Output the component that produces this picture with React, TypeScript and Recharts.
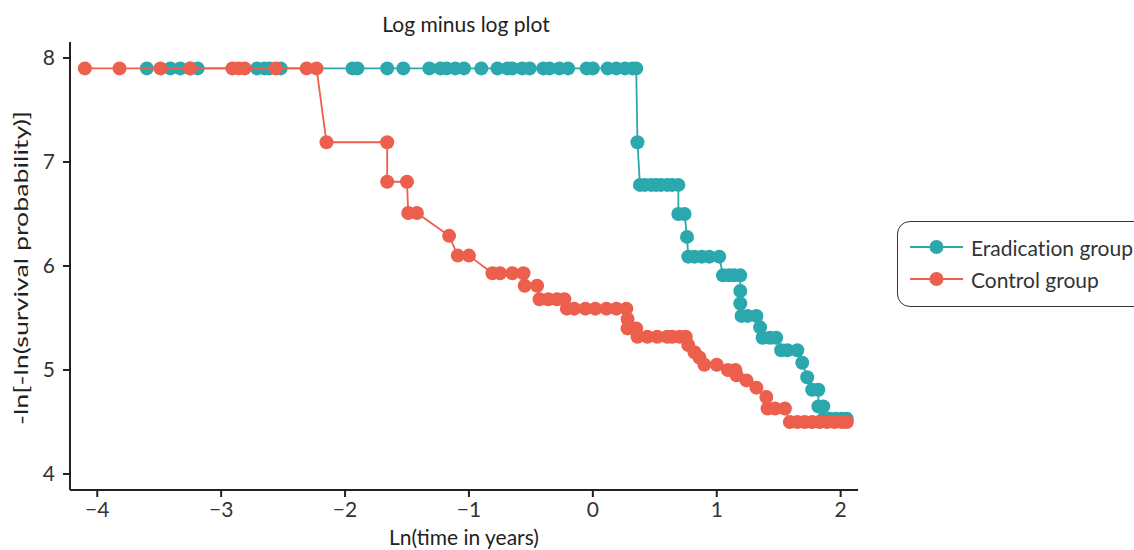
import { ScatterChart, Scatter, XAxis, YAxis } from "recharts"

// Log minus log survival curves, x = ln(time in years), y = -ln[-ln(S(t))]
const eradicationTime = [
  -3.6, -3.41, -3.33, -3.25, -3.19, -2.71, -2.65, -2.61, -2.52, -1.94, -1.9, -1.66, -1.53, -1.32, -1.23, -1.18,
  -1.11, -1.04, -0.9, -0.77, -0.69, -0.65, -0.57, -0.51, -0.4, -0.35, -0.27, -0.2, -0.05, 0.0, 0.12, 0.19, 0.26,
  0.32, 0.35, 0.36, 0.38, 0.42, 0.47, 0.51, 0.55, 0.6, 0.64, 0.69, 0.69, 0.74, 0.76, 0.77, 0.82, 0.88, 0.94, 1.02,
  1.05, 1.1, 1.14, 1.19, 1.19, 1.19, 1.2, 1.25, 1.32, 1.35, 1.37, 1.43, 1.48, 1.52, 1.57, 1.65, 1.69, 1.73, 1.77,
  1.82, 1.82, 1.86, 1.86, 1.91, 1.96, 2.01, 2.05,
]
const eradicationValue = [
  7.9, 7.9, 7.9, 7.9, 7.9, 7.9, 7.9, 7.9, 7.9, 7.9, 7.9, 7.9, 7.9, 7.9, 7.9, 7.9, 7.9, 7.9, 7.9, 7.9, 7.9, 7.9,
  7.9, 7.9, 7.9, 7.9, 7.9, 7.9, 7.9, 7.9, 7.9, 7.9, 7.9, 7.9, 7.9, 7.19, 6.78, 6.78, 6.78, 6.78, 6.78, 6.78, 6.78,
  6.78, 6.5, 6.5, 6.28, 6.09, 6.09, 6.09, 6.09, 6.09, 5.91, 5.91, 5.91, 5.91, 5.76, 5.64, 5.52, 5.52, 5.52, 5.41,
  5.31, 5.31, 5.31, 5.19, 5.19, 5.19, 5.07, 4.93, 4.81, 4.81, 4.65, 4.65, 4.53, 4.53, 4.53, 4.53, 4.53,
]

const controlTime = [
  -4.1, -3.82, -3.49, -3.25, -2.91, -2.86, -2.81, -2.56, -2.31, -2.23, -2.15, -1.66, -1.66, -1.5, -1.49, -1.42,
  -1.16, -1.09, -1.0, -0.81, -0.75, -0.65, -0.56, -0.55, -0.45, -0.43, -0.36, -0.29, -0.23, -0.21, -0.15, -0.06,
  0.02, 0.11, 0.19, 0.27, 0.28, 0.28, 0.35, 0.36, 0.44, 0.52, 0.6, 0.64, 0.7, 0.75, 0.77, 0.82, 0.86, 0.9, 1.0,
  1.09, 1.15, 1.16, 1.24, 1.32, 1.4, 1.41, 1.47, 1.55, 1.59, 1.65, 1.71, 1.77, 1.83, 1.89, 1.95, 2.01, 2.05,
]
const controlValue = [
  7.9, 7.9, 7.9, 7.9, 7.9, 7.9, 7.9, 7.9, 7.9, 7.9, 7.19, 7.19, 6.81, 6.81, 6.51, 6.51, 6.29, 6.1, 6.1, 5.93,
  5.93, 5.93, 5.93, 5.81, 5.81, 5.68, 5.68, 5.68, 5.68, 5.59, 5.59, 5.59, 5.59, 5.59, 5.59, 5.59, 5.49, 5.4,
  5.4, 5.32, 5.32, 5.32, 5.32, 5.32, 5.32, 5.32, 5.24, 5.17, 5.12, 5.05, 5.05, 5.0, 5.0, 4.95, 4.9, 4.83, 4.74,
  4.63, 4.63, 4.63, 4.5, 4.5, 4.5, 4.5, 4.5, 4.5, 4.5, 4.5, 4.5,
]

const xTicks = [-4, -3, -2, -1, 0, 1, 2]
const yTicks = [4, 5, 6, 7, 8]

const TEAL = "#2ba8ae"
const CORAL = "#eb5f4c"
const FONT = "Lato, 'Noto Sans', sans-serif"

const eradicationData = eradicationTime.map((x, i) => ({ x, y: eradicationValue[i] }))
const controlData = controlTime.map((x, i) => ({ x, y: controlValue[i] }))

const series = [
  { name: "Eradication group", color: TEAL },
  { name: "Control group", color: CORAL },
]

const dot = (color: string) => (props: any) => <circle cx={props.cx} cy={props.cy} r={7} fill={color} />

// typographic minus on negative tick values
const minusFormat = (v: number) => String(v).replace("-", "\u2212")

function LegendBox() {
  return (
    <div
      style={{
        position: "absolute",
        left: 897,
        top: 221,
        width: 270,
        height: 86,
        border: "1.5px solid #333",
        borderRadius: 13,
        boxSizing: "border-box",
        padding: "9px 0 0 12px",
        fontFamily: FONT,
        fontSize: 21,
        fontVariantLigatures: "none",
        color: "#333",
        background: "#fff",
      }}
    >
      {series.map((s) => (
        <div key={s.name} style={{ display: "flex", alignItems: "center", height: 32 }}>
          <svg width={53} height={20} style={{ marginRight: 8 }}>
            <line x1={0} y1={10} x2={53} y2={10} stroke={s.color} strokeWidth={2} />
            <circle cx={26.5} cy={10} r={7} fill={s.color} />
          </svg>
          <span>{s.name}</span>
        </div>
      ))}
    </div>
  )
}

export default function App() {
  const axisColor = "#222"
  const tickStyle = { fontSize: 21, fill: "#333", fontFamily: FONT }

  return (
    <div style={{ position: "absolute", left: 0, top: 0, width: 1134, height: 550, overflow: "hidden", background: "#fff" }}>
      <div
        style={{
          position: "absolute",
          left: 0,
          width: 932,
          top: 11,
          textAlign: "center",
          fontFamily: FONT,
          fontSize: 21,
          color: "#222",
          zIndex: 2,
        }}
      >
        Log minus log plot
      </div>
      <ScatterChart width={1134} height={550} margin={{ top: 42, right: 276, bottom: 0, left: 10 }}>
        <XAxis
          type="number"
          dataKey="x"
          domain={[-4.22, 2.14]}
          ticks={xTicks}
          tickFormatter={minusFormat}
          allowDataOverflow
          height={60}
          stroke={axisColor}
          strokeWidth={2}
          tickSize={7}
          tickMargin={5}
          tick={tickStyle}
          label={{ value: "Ln(time in years)", position: "insideBottom", offset: 5, style: { ...tickStyle, fill: "#222" } }}
        />
        <YAxis
          type="number"
          dataKey="y"
          domain={[3.846, 8.154]}
          ticks={yTicks}
          allowDataOverflow
          width={60}
          stroke={axisColor}
          strokeWidth={2}
          tickSize={7}
          tickMargin={8}
          tick={tickStyle}
          label={{
            content: (p: any) => {
              const vb = p.viewBox
              const cx = vb.x + 10
              const cy = vb.y + vb.height / 2 + 2
              return (
                <text
                  x={cx}
                  y={cy}
                  transform={`rotate(-90 ${cx} ${cy})`}
                  textAnchor="middle"
                  dominantBaseline="central"
                  textLength={314}
                  lengthAdjust="spacingAndGlyphs"
                  style={{ ...tickStyle, fontSize: 20, fill: "#222" }}
                >
                  -ln[-ln(survival probability)]
                </text>
              )
            },
          }}
        />
        <Scatter
          name="Eradication group"
          data={eradicationData}
          fill={TEAL}
          line={{ stroke: TEAL, strokeWidth: 1.8 }}
          lineType="joint"
          shape={dot(TEAL)}
          isAnimationActive={false}
        />
        <Scatter
          name="Control group"
          data={controlData}
          fill={CORAL}
          line={{ stroke: CORAL, strokeWidth: 1.8 }}
          lineType="joint"
          shape={dot(CORAL)}
          isAnimationActive={false}
        />
      </ScatterChart>
      <LegendBox />
    </div>
  )
}
